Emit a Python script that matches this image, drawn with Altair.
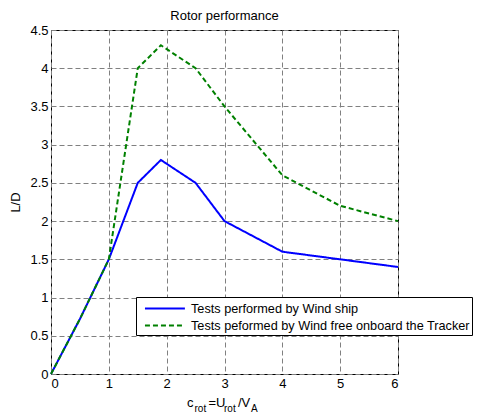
import altair as alt
import pandas as pd

# Data
ship_x = [0, 0.5, 1, 1.5, 1.9, 2.5, 3, 4, 5, 6]
ship_y = [0, 0.72, 1.5, 2.5, 2.8, 2.5, 2.0, 1.6, 1.5, 1.4]
free_x = [0, 0.5, 1, 1.5, 1.9, 2.5, 3, 4, 5, 6]
free_y = [0, 0.72, 1.5, 4.0, 4.3, 4.0, 3.5, 2.6, 2.2, 2.0]

series_names = [
    "Tests performed by Wind ship",
    "Tests peformed by Wind free onboard the Tracker",
]
series_colors = ["#0000ff", "#008000"]
series_dash = [[1, 0], [5, 3]]

x_ticks = [0, 1, 2, 3, 4, 5, 6]
y_ticks = [0, 0.5, 1, 1.5, 2, 2.5, 3, 3.5, 4, 4.5]

rows = []
for i, (x, y) in enumerate(zip(ship_x, ship_y)):
    rows.append({"x": x, "y": y, "series": series_names[0], "order": i})
for i, (x, y) in enumerate(zip(free_x, free_y)):
    rows.append({"x": x, "y": y, "series": series_names[1], "order": i})
df = pd.DataFrame(rows)

FONT = "Liberation Sans"
W, H = 347, 344

# long horizontal line symbol (custom path, scaled by sqrt(size)/2)
LINE_SYMBOL = "M-0.3,0L4.4,0"

legend_cfg = dict(title=None, orient="none", legendX=85, legendY=267,
                  symbolType=LINE_SYMBOL, symbolSize=289, symbolStrokeWidth=2,
                  symbolFillColor="transparent",
                  labelFont=FONT, labelFontSize=12.7, labelColor="black",
                  labelOffset=34, strokeColor="black", fillColor="white",
                  padding=2, rowPadding=0, labelLimit=400)

lines = alt.Chart(df).mark_line(strokeWidth=2).encode(
    x=alt.X("x:Q", scale=alt.Scale(domain=[0, 6], nice=False),
            axis=alt.Axis(values=x_ticks, title=None, format="~g")),
    y=alt.Y("y:Q", scale=alt.Scale(domain=[0, 4.5], nice=False),
            axis=alt.Axis(values=y_ticks, title="L/D", format="~g")),
    color=alt.Color("series:N",
                    scale=alt.Scale(domain=series_names, range=series_colors),
                    legend=alt.Legend(**legend_cfg)),
    strokeDash=alt.StrokeDash("series:N",
                              scale=alt.Scale(domain=series_names, range=series_dash),
                              legend=alt.Legend(**legend_cfg)),
    detail="series:N",
    order="order:Q",
)

# x-axis title with subscripts: c_rot = U_rot / V_A
title_parts = pd.DataFrame([
    {"t": "c", "dx": 0, "sub": False},
    {"t": "rot", "dx": 7.5, "sub": True},
    {"t": "=U", "dx": 21.5, "sub": False},
    {"t": "rot", "dx": 37, "sub": True},
    {"t": "/V", "dx": 51, "sub": False},
    {"t": "A", "dx": 64, "sub": True},
])
base_x = 136
main_txt = alt.Chart(title_parts[~title_parts["sub"]]).mark_text(
    font=FONT, fontSize=13, align="left", baseline="alphabetic", color="black"
).encode(
    x=alt.value(base_x), y=alt.value(H + 33), text="t:N",
    xOffset=alt.XOffset("dx:Q", scale=None),
)
sub_txt = alt.Chart(title_parts[title_parts["sub"]]).mark_text(
    font=FONT, fontSize=10, align="left", baseline="alphabetic", color="black"
).encode(
    x=alt.value(base_x), y=alt.value(H + 38), text="t:N",
    xOffset=alt.XOffset("dx:Q", scale=None),
)

chart = alt.layer(lines, main_txt, sub_txt).properties(
    width=W, height=H,
    title=alt.TitleParams("Rotor performance", font=FONT, fontSize=13,
                          fontWeight="normal", color="black", offset=1),
    padding={"left": 1, "top": 2, "right": 0, "bottom": 0},
).configure_view(
    stroke="black", strokeWidth=1
).configure_axis(
    grid=True, gridDash=[5, 3], gridColor="#808080", gridOpacity=1, gridWidth=1,
    domain=False, ticks=False,
    labelFont=FONT, labelFontSize=13, labelColor="black", labelPadding=3,
    titleFont=FONT, titleFontSize=13, titleFontWeight="normal", titleColor="black",
).configure_axisY(titlePadding=7)

chart.save("out.html", embed_options={"renderer": "svg", "actions": False})
